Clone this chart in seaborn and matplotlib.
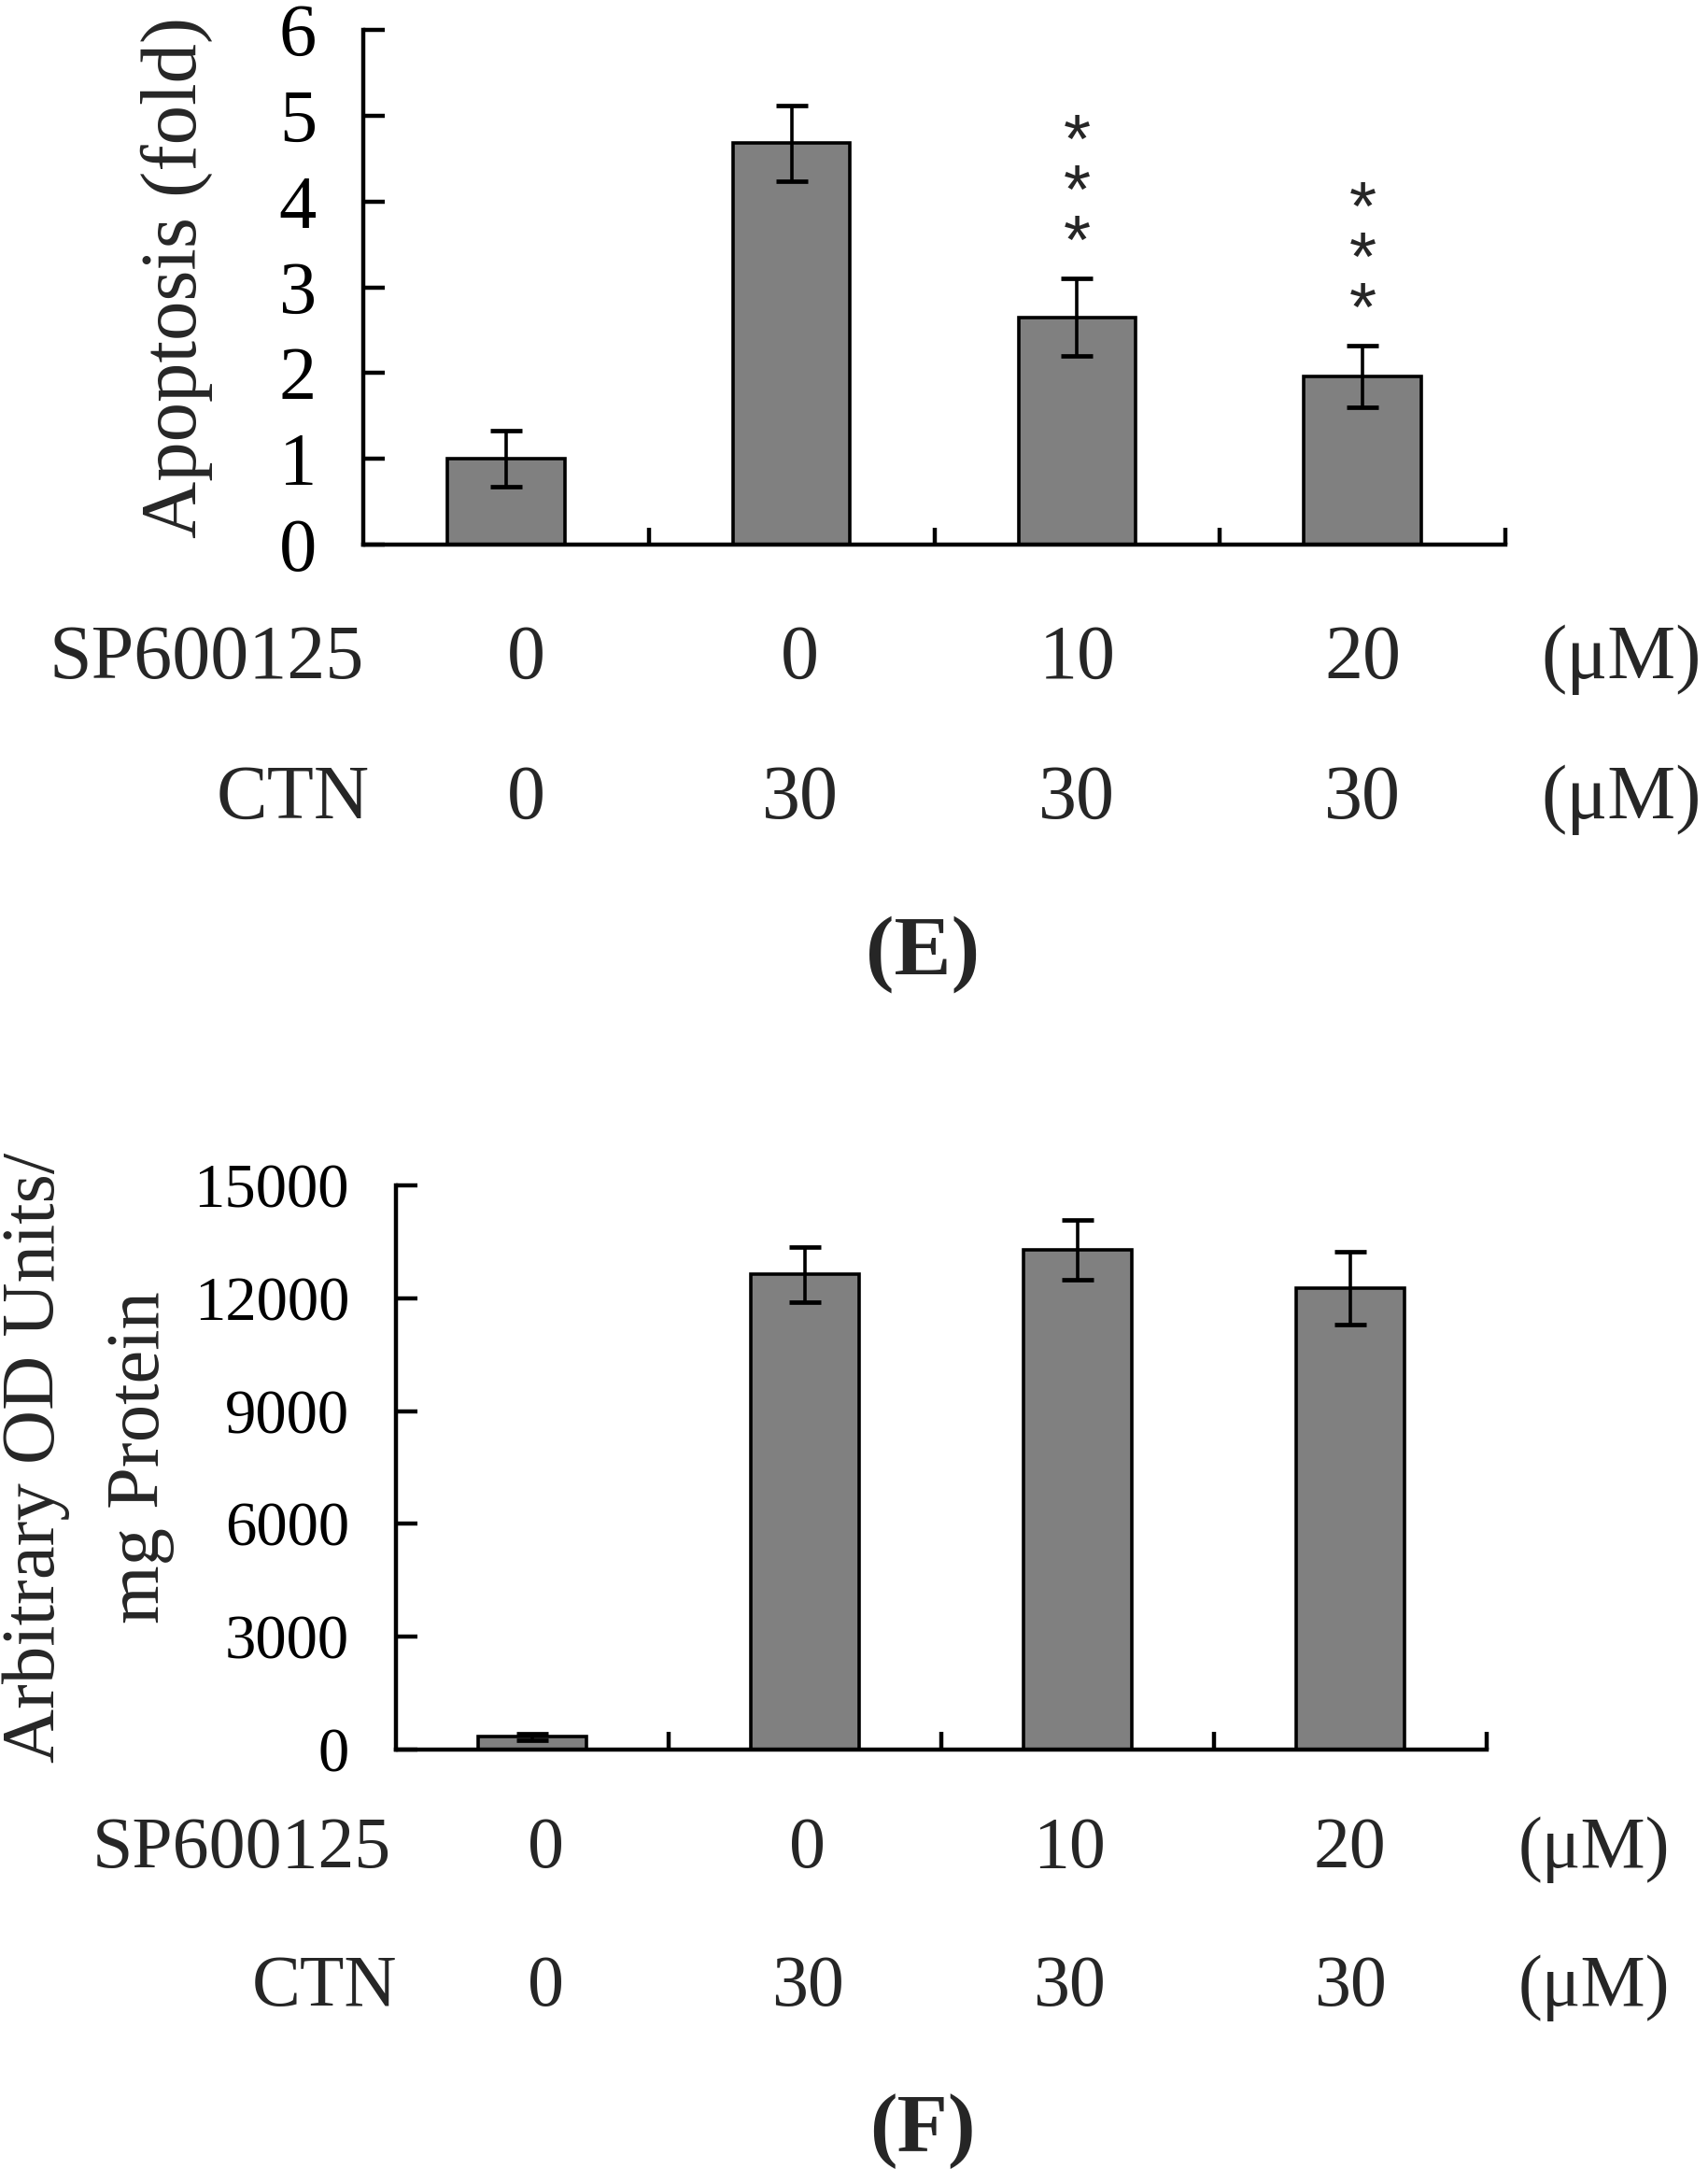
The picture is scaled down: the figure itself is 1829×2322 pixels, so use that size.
import matplotlib
matplotlib.use('Agg')
import matplotlib.pyplot as plt
import matplotlib.transforms as mtransforms
import pandas as pd
import seaborn as sns

# datos
groups = ['Control', 'CTN', 'SP10+CTN', 'SP20+CTN']
sp600125 = ['0', '0', '10', '20']
ctn = ['0', '30', '30', '30']

apoptosis = [1.0, 4.68, 2.65, 1.96]
apoptosis_err = [0.33, 0.44, 0.45, 0.36]
apoptosis_sig = ['', '', '***', '***']

od_units = [340, 12630, 13290, 12270]
od_err = [90, 740, 800, 960]

sns.set_style('ticks')
plt.rcParams['font.family'] = ['Liberation Serif', 'DejaVu Serif']

W, H = 1829, 2322
fig = plt.figure(figsize=(W / 100, H / 100), dpi=100)


def panel(rect, values, errs, ylim, yticks, ylabel, label_pos, tick_fs, label_fs,
          bar_width, xtick_len, linespacing=1.2):
    ax = fig.add_axes(rect)
    df = pd.DataFrame({'grupo': groups, 'valor': values})
    sns.barplot(data=df, x='grupo', y='valor', order=groups, color='#808080',
                saturation=1, edgecolor='black', linewidth=2.6, width=bar_width,
                errorbar=None, ax=ax)
    ax.errorbar(range(len(values)), values, yerr=errs, fmt='none', ecolor='black',
                elinewidth=2.6, capsize=12, capthick=3.4, zorder=5)

    ax.set_xlim(-0.5, len(values) - 0.5)
    ax.set_ylim(*ylim)
    ax.set_yticks(yticks)
    ax.set_yticklabels([str(t) for t in yticks])
    ax.set_xticks([])
    ax.set_xticks([i + 0.5 for i in range(len(values))], minor=True)
    ax.tick_params(axis='y', direction='in', length=16.5, width=3.2, pad=36,
                   labelsize=tick_fs, colors='black')
    ax.tick_params(axis='x', which='minor', direction='in', length=xtick_len,
                   width=3.2, colors='black')
    ax.set_xlabel('')
    ax.set_ylabel(ylabel, fontsize=label_fs, va='center', linespacing=linespacing)
    ax.yaxis.set_label_coords(*label_pos)
    sns.despine(ax=ax)
    for side in ['left', 'bottom']:
        ax.spines[side].set_linewidth(3.2)
        ax.spines[side].set_color('black')
    return ax


def filas(ax, y_sp, y_ctn, head_x, unit_x, shifts, fs):
    tr = mtransforms.blended_transform_factory(ax.transData, fig.transFigure)
    for i in range(len(groups)):
        ax.text(i + shifts[i], y_sp, sp600125[i], transform=tr, ha='center',
                va='baseline', fontsize=fs)
        ax.text(i + shifts[i], y_ctn, ctn[i], transform=tr, ha='center',
                va='baseline', fontsize=fs)
    fig.text(head_x[0], y_sp, 'SP600125', ha='right', va='baseline', fontsize=fs)
    fig.text(head_x[1], y_ctn, 'CTN', ha='right', va='baseline', fontsize=fs)
    fig.text(unit_x, y_sp, '(μM)', ha='left', va='baseline', fontsize=fs)
    fig.text(unit_x, y_ctn, '(μM)', ha='left', va='baseline', fontsize=fs)


# (E) apoptosis
ax1 = panel([389 / W, 1 - 583 / H, 1223 / W, 551 / H], apoptosis, apoptosis_err,
            (0, 6), list(range(0, 7)), 'Apoptosis (fold)', (-0.163, 0.52),
            58, 61, 0.41, 13)
star_fs = 54
for i, s in enumerate(apoptosis_sig):
    if not s:
        continue
    base = apoptosis[i] + apoptosis_err[i] + 0.57
    ax1.annotate('\n'.join(s), xy=(i, base), xytext=(0, -26),
                 textcoords='offset points', ha='center', va='baseline',
                 fontsize=star_fs, family='Liberation Sans', linespacing=0.72)
filas(ax1, 1 - 726 / H, 1 - 876 / H, (390 / W, 396 / W), 1650 / W,
      [0.07, 0.03, 0.0, 0.0], 59)
fig.text(988 / W, 1 - 1044 / H, '(E)', ha='center', va='baseline',
         fontsize=66, fontweight='bold')

# (F) unidades OD
ax2 = panel([424 / W, 1 - 1873 / H, 1168 / W, 604 / H], od_units, od_err,
            (0, 15000), list(range(0, 15001, 3000)),
            'Arbitrary OD Units/\nmg Protein', (-0.282, 0.518),
            48, 58, 0.40, 14, linespacing=1.7)
filas(ax2, 1 - 1999 / H, 1 - 2147 / H, (419 / W, 425 / W), 1626 / W,
      [0.05, 0.01, -0.03, 0.0], 56)
fig.text(988 / W, 1 - 2303 / H, '(F)', ha='center', va='baseline',
         fontsize=64, fontweight='bold')

plt.savefig('out.png', dpi=100)
